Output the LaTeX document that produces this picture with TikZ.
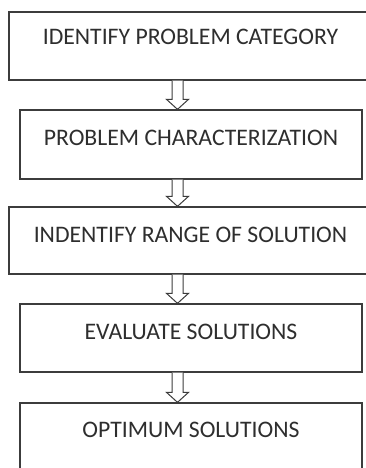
\documentclass[tikz,border=0pt]{standalone}
\usepackage{fontspec}
\setmainfont{Carlito}
\usetikzlibrary{calc}
\definecolor{linecol}{HTML}{3C3C3C}
\definecolor{textcol}{HTML}{2E2E2E}
\tikzset{
  box/.style={draw=linecol, line width=1.3pt, inner sep=0pt, fill=white,
    text=textcol, font=\fontsize{23.7}{26}\selectfont},
  blockarrow/.style={draw=linecol, line width=1pt, fill=white, line join=miter}
}
\begin{document}
\begin{tikzpicture}[x=1pt,y=1pt]
\useasboundingbox[fill=white] (0,0) rectangle (366,-468);
\clip (0,0) rectangle (366,-468);
\node[box, minimum width=363pt, text height=33pt, text depth=35pt] (b1) at (190.5,-46) {IDENTIFY PROBLEM CATEGORY};
\node[box, minimum width=342pt, text height=36pt, text depth=33pt] (b2) at (191,-144.5) {PROBLEM CHARACTERIZATION};
\node[box, minimum width=363pt, text height=35pt, text depth=32pt] (b3) at (190.5,-240.5) {INDENTIFY RANGE OF SOLUTION};
\node[box, minimum width=342pt, text height=35pt, text depth=33pt] (b4) at (191,-338) {EVALUATE SOLUTIONS};
\node[box, minimum width=342pt, text height=34pt, text depth=38pt] (b5) at (191,-439) {OPTIMUM SOLUTIONS};
\coordinate (ax) at (177.5,0);
\foreach \a/\b in {b1/b2,b2/b3,b3/b4,b4/b5}{
  \draw[blockarrow]
    ($(ax |- \a.south)+(-5.5,0)$) -- ($(ax |- \b.north)+(-5.5,10)$)
    -- ($(ax |- \b.north)+(-11,10)$) -- (ax |- \b.north)
    -- ($(ax |- \b.north)+(11,10)$) -- ($(ax |- \b.north)+(5.5,10)$)
    -- ($(ax |- \a.south)+(5.5,0)$);
}
\end{tikzpicture}
\end{document}
